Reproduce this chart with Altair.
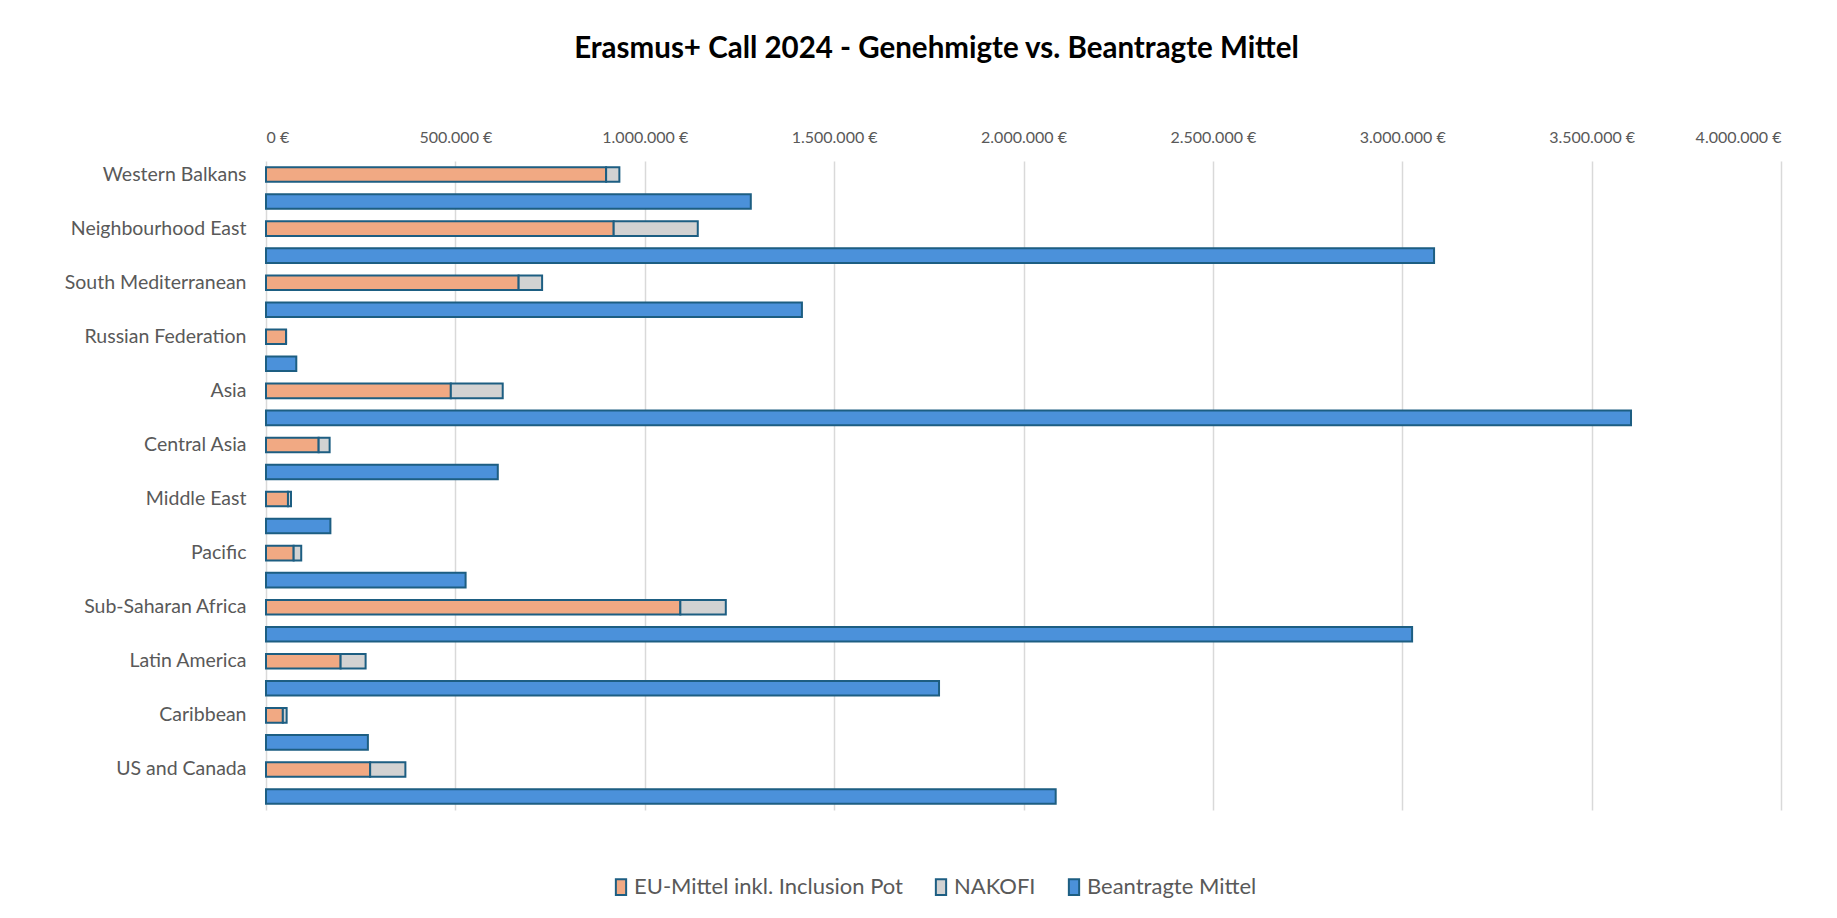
import altair as alt
import pandas as pd

regions = [
    "Western Balkans", "Neighbourhood East", "South Mediterranean", "Russian Federation",
    "Asia", "Central Asia", "Middle East", "Pacific", "Sub-Saharan Africa",
    "Latin America", "Caribbean", "US and Canada",
]
eu_mittel = [898000, 918000, 667000, 53000, 488000, 139000, 58000, 73000, 1094000, 197000, 44500, 275000]
nakofi = [35000, 222000, 62000, 0, 137000, 29000, 8000, 20000, 120000, 66000, 10000, 93000]
beantragt = [1280000, 3084000, 1415000, 80000, 3604000, 612000, 170000, 527000, 3026000, 1777000, 269000, 2085000]

series_names = ["EU-Mittel inkl. Inclusion Pot", "NAKOFI", "Beantragte Mittel"]
series_colors = ["#F1A983", "#D2D2D2", "#4B91DA"]
x_ticks = [0, 500000, 1000000, 1500000, 2000000, 2500000, 3000000, 3500000, 4000000]

rows = []
row_order = []
for r, e, n, b in zip(regions, eu_mittel, nakofi, beantragt):
    row_order += [r, r + "|B"]
    rows.append({"row": r, "series": series_names[0], "value": e, "ord": 0})
    rows.append({"row": r, "series": series_names[1], "value": n, "ord": 1})
    rows.append({"row": r + "|B", "series": series_names[2], "value": b, "ord": 2})
df = pd.DataFrame(rows)

FONT = "Lato"

chart = (
    alt.Chart(df)
    .mark_bar(stroke="#1D5E82", strokeWidth=2)
    .encode(
        x=alt.X(
            "value:Q",
            stack="zero",
            scale=alt.Scale(domain=[0, 4000000], nice=False),
            axis=alt.Axis(
                orient="top",
                values=x_ticks,
                title=None,
                ticks=False,
                domain=False,
                labelPadding=16,
                labelFontSize=16,
                labelColor="#595959",
                labelFont=FONT,
                gridColor="#D9D9D9",
                gridWidth=1.5,
                labelExpr="replace(replace(format(datum.value, ','), ',', '.'), ',', '.') + ' €'",
            ),
        ),
        y=alt.Y(
            "row:N",
            sort=row_order,
            scale=alt.Scale(paddingInner=0.46, paddingOuter=0.23),
            axis=alt.Axis(
                title=None,
                ticks=False,
                domain=False,
                grid=False,
                labelPadding=20,
                labelFontSize=19.5,
                labelColor="#595959",
                labelFont=FONT,
                labelLimit=320,
                labelExpr="indexof(datum.value, '|') >= 0 ? '' : datum.value",
            ),
        ),
        color=alt.Color(
            "series:N",
            scale=alt.Scale(domain=series_names, range=series_colors),
            legend=alt.Legend(
                title=None,
                orient="none",
                direction="horizontal",
                legendX=344,
                legendY=715,
                labelFontSize=22,
                labelFont=FONT,
                labelColor="#595959",
                symbolType="M-0.65,-1L0.65,-1L0.65,1L-0.65,1Z",
                symbolSize=250,
                symbolStrokeColor="#1D5E82",
                symbolStrokeWidth=2,
                symbolOpacity=1,
                columnPadding=27,
                labelOffset=2,
                labelLimit=500,
            ),
        ),
        order=alt.Order("ord:Q"),
    )
    .properties(
        width=1515,
        height=649,
        autosize=alt.AutoSizeParams(type="none"),
        padding={"left": 258, "top": 153, "right": 48, "bottom": 95},
        title=alt.Title(
            "Erasmus+ Call 2024 - Genehmigte vs. Beantragte Mittel",
            font=FONT,
            fontSize=29.5,
            fontWeight="bold",
            color="#000000",
            anchor="middle",
            dx=-87,
            offset=65,
        ),
    )
    .configure(background="white")
    .configure_view(stroke=None)
)

chart.save("out.html", embed_options={"renderer": "svg", "actions": False})
